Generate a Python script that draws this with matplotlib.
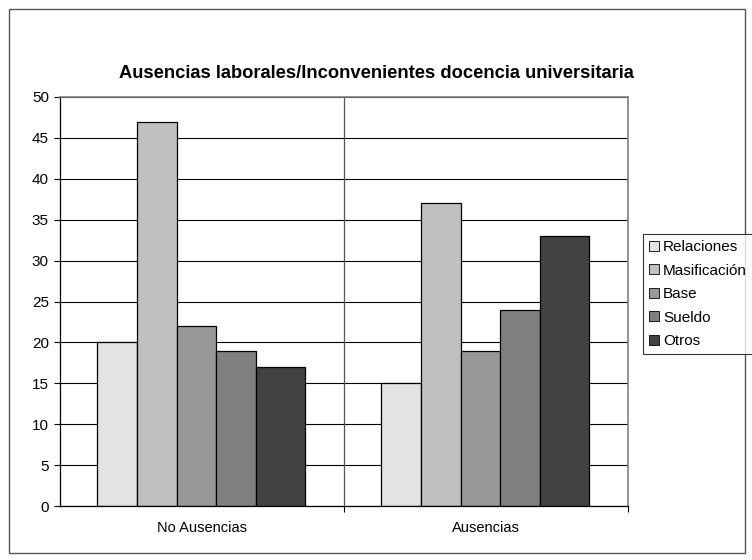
import matplotlib
matplotlib.use("Agg")
import matplotlib.pyplot as plt
from matplotlib.patches import Rectangle
import numpy as np

plt.rcParams['font.family'] = ['Liberation Sans', 'DejaVu Sans']

categories = ["No Ausencias", "Ausencias"]
series = ["Relaciones", "Masificación", "Base", "Sueldo", "Otros"]
values = {
    "Relaciones": [20, 15],
    "Masificación": [47, 37],
    "Base": [22, 19],
    "Sueldo": [19, 24],
    "Otros": [17, 33],
}
colors = ["#e3e3e3", "#c0c0c0", "#989898", "#808080", "#424242"]
yticks = list(range(0, 51, 5))

W, H = 752, 560
fig = plt.figure(figsize=(W / 100, H / 100), dpi=100)

# outer chart border
fig.patches.append(Rectangle((9 / W, 7 / H), 736 / W, 544 / H, transform=fig.transFigure,
                             fill=False, edgecolor="#555555", linewidth=1.0))

ax = fig.add_axes([60 / W, 1 - 506 / H, 568 / W, 409 / H])

# bar widths in category units (last series slightly wider)
widths = [0.14, 0.14, 0.14, 0.14, 0.172]
group_left = -0.5 + 37 / 284
x = np.arange(len(categories))
offset = group_left
for name, w, c in zip(series, widths, colors):
    ax.bar(x + offset, values[name], width=w, align="edge", color=c,
           edgecolor="black", linewidth=0.9, label=name, zorder=3)
    offset += w

ax.set_xlim(-0.5, 1.5)
ax.set_ylim(0, 50)
ax.set_yticks(yticks)
ax.set_yticklabels([str(t) for t in yticks], fontsize=11)
ax.yaxis.grid(True, color="black", linewidth=0.8, zorder=0)
ax.set_axisbelow(True)

ax.set_xticks(x)
ax.set_xticklabels(categories, fontsize=10.5)
ax.tick_params(axis="x", length=0, pad=11)
ax.tick_params(axis="y", length=4, width=0.8, pad=4)
# category separators
ax.set_xticks([0.5, 1.5], minor=True)
ax.tick_params(axis="x", which="minor", length=4, width=0.8)
ax.axvline(0.5, color="#555555", linewidth=0.9, zorder=1)

for side in ["left", "bottom"]:
    ax.spines[side].set_color("black")
    ax.spines[side].set_linewidth(0.9)
for side in ["top", "right"]:
    ax.spines[side].set_color("#808080")
    ax.spines[side].set_linewidth(1.2)
ax.spines["bottom"].set_zorder(4)

fig.text(0.5, 1 - 73 / H,
         "Ausencias laborales/Inconvenientes docencia universitaria",
         ha="center", va="center", fontsize=13.2, fontweight="bold")

leg = fig.legend(loc="upper left", bbox_to_anchor=(643 / W, 1 - 234 / H),
                 fontsize=11, frameon=True, fancybox=False, edgecolor="black",
                 handlelength=0.65, handleheight=0.65, handletextpad=0.25,
                 labelspacing=0.62, borderpad=0.4, borderaxespad=0)
leg.get_frame().set_linewidth(0.8)
for h in leg.legend_handles:
    h.set_linewidth(0.6)

fig.savefig("out.png", dpi=100, facecolor="white")
